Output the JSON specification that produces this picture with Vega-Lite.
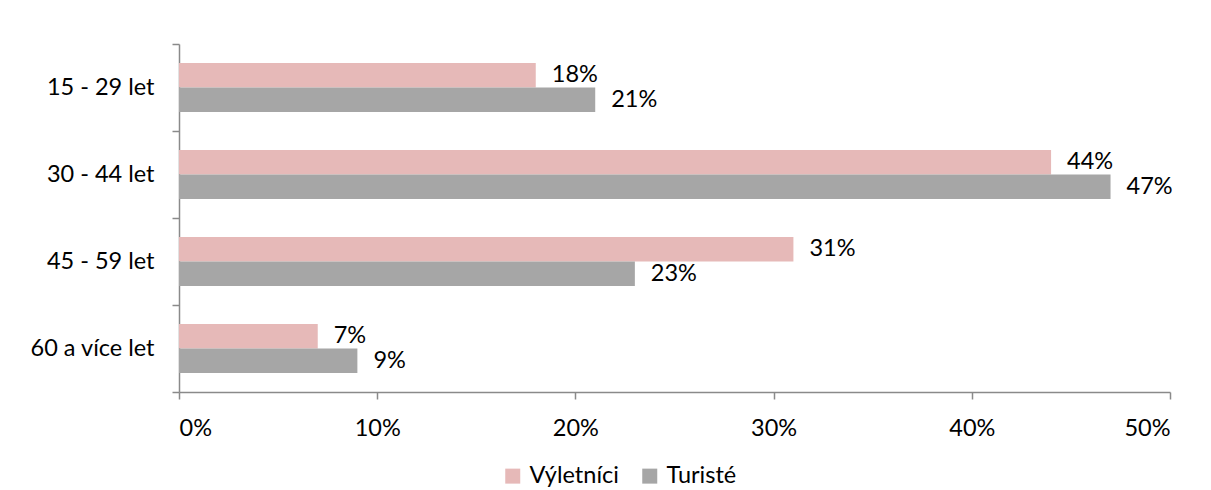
{
  "$schema": "https://vega.github.io/schema/vega-lite/v6.json",
  "width": 991,
  "height": 348,
  "autosize": {"type": "none"},
  "padding": {"left": 179, "top": 44, "right": 41, "bottom": 98},
  "background": "white",
  "config": {
    "view": {"stroke": null},
    "font": "Lato",
    "axis": {
      "labelFont": "Lato",
      "labelFontSize": 23.5,
      "labelColor": "#000000",
      "domainColor": "#8a8a8a",
      "domainWidth": 1.5,
      "tickColor": "#8a8a8a",
      "tickWidth": 1.5,
      "tickSize": 7,
      "grid": false,
      "title": null
    },
    "legend": {
      "labelFont": "Lato",
      "labelFontSize": 23.5,
      "labelColor": "#000000"
    }
  },
  "data": {
    "values": [
      {"vek": "15 - 29 let", "skupina": "Výletníci", "podil": 0.18},
      {"vek": "15 - 29 let", "skupina": "Turisté", "podil": 0.21},
      {"vek": "30 - 44 let", "skupina": "Výletníci", "podil": 0.44},
      {"vek": "30 - 44 let", "skupina": "Turisté", "podil": 0.47},
      {"vek": "45 - 59 let", "skupina": "Výletníci", "podil": 0.31},
      {"vek": "45 - 59 let", "skupina": "Turisté", "podil": 0.23},
      {"vek": "60 a více let", "skupina": "Výletníci", "podil": 0.07},
      {"vek": "60 a více let", "skupina": "Turisté", "podil": 0.09}
    ]
  },
  "encoding": {
    "y": {
      "field": "vek",
      "type": "nominal",
      "sort": ["15 - 29 let", "30 - 44 let", "45 - 59 let", "60 a více let"],
      "scale": {"paddingInner": 0, "paddingOuter": 0},
      "axis": {"tickBand": "extent", "labelPadding": 18, "labelLimit": 300}
    },
    "yOffset": {
      "field": "skupina",
      "type": "nominal",
      "sort": ["Výletníci", "Turisté"],
      "scale": {"paddingInner": 0, "paddingOuter": 0.7755}
    },
    "x": {
      "field": "podil",
      "type": "quantitative",
      "scale": {"domain": [0, 0.5], "nice": false},
      "axis": {"values": [0, 0.1, 0.2, 0.3, 0.4, 0.5], "format": ".0%", "labelPadding": 17}
    }
  },
  "layer": [
    {
      "mark": {"type": "bar"},
      "encoding": {
        "color": {
          "field": "skupina",
          "type": "nominal",
          "sort": ["Výletníci", "Turisté"],
          "scale": {"domain": ["Výletníci", "Turisté"], "range": ["#E6B9B8", "#A6A6A6"]},
          "legend": {
            "title": null,
            "orient": "none",
            "legendX": 322,
            "legendY": 420,
            "direction": "horizontal",
            "symbolType": "square",
            "symbolSize": 225,
            "symbolStrokeWidth": 0,
            "labelOffset": 5,
            "columnPadding": 19,
            "padding": 0
          }
        }
      }
    },
    {
      "mark": {"type": "text", "align": "left", "baseline": "middle", "dx": 16, "fontSize": 23.5, "font": "Lato", "color": "#000000"},
      "encoding": {
        "text": {"field": "podil", "type": "quantitative", "format": ".0%"}
      }
    }
  ]
}
